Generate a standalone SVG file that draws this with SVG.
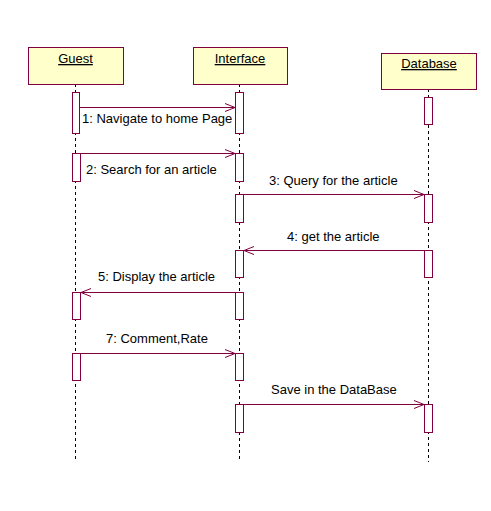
<svg xmlns="http://www.w3.org/2000/svg" width="491" height="511" viewBox="0 0 491 511">
<defs>
<style>
.obj{fill:#FFFFCC;stroke:#800040;stroke-width:1}
.act{fill:#FFFFFF;stroke:#800040;stroke-width:1}
.life{stroke:#000;stroke-width:1;stroke-dasharray:3,3;fill:none}
.msg{stroke:#800040;stroke-width:1;fill:none}
.t{font-family:"Liberation Sans",Arial,sans-serif;font-size:13px;fill:#000}
.n{font-family:"Liberation Sans",Arial,sans-serif;font-size:13px;fill:#000;text-decoration:underline;text-anchor:middle}
</style>
<marker id="ah" markerWidth="12" markerHeight="10" refX="11" refY="5" orient="auto" markerUnits="userSpaceOnUse">
<path d="M1,1 L11,5 L1,9" fill="none" stroke="#800040" stroke-width="1"/>
</marker>
</defs>
<rect width="491" height="511" fill="#fff"/>
<g id="lifelines">
<line class="life" x1="75.5" y1="84" x2="75.5" y2="462"/>
<line class="life" x1="239.5" y1="84" x2="239.5" y2="462"/>
<line class="life" x1="428.5" y1="89" x2="428.5" y2="462"/>
</g>
<g id="guest">
<rect class="obj" x="28.5" y="47.5" width="95" height="37"/>
<text class="n" x="75.5" y="63">Guest</text>
</g>
<g id="interface">
<rect class="obj" x="193.5" y="47.5" width="94" height="37"/>
<text class="n" x="240" y="63">Interface</text>
</g>
<g id="database">
<rect class="obj" x="381.5" y="53.5" width="95" height="36"/>
<text class="n" x="429" y="68">Database</text>
</g>
<g id="activations">
<rect class="act" x="72.5" y="92.5" width="7" height="41"/>
<rect class="act" x="235.5" y="92.5" width="8" height="41"/>
<rect class="act" x="424.5" y="97.5" width="8" height="27"/>
<rect class="act" x="72.5" y="153.5" width="8" height="28"/>
<rect class="act" x="235.5" y="153.5" width="8" height="28"/>
<rect class="act" x="235.5" y="194.5" width="8" height="28"/>
<rect class="act" x="424.5" y="194.5" width="8" height="28"/>
<rect class="act" x="235.5" y="250.5" width="8" height="27"/>
<rect class="act" x="424.5" y="250.5" width="8" height="27"/>
<rect class="act" x="72.5" y="292.5" width="8" height="27"/>
<rect class="act" x="235.5" y="292.5" width="8" height="27"/>
<rect class="act" x="72.5" y="353.5" width="8" height="27"/>
<rect class="act" x="235.5" y="353.5" width="8" height="27"/>
<rect class="act" x="235.5" y="404.5" width="8" height="28"/>
<rect class="act" x="424.5" y="404.5" width="8" height="28"/>
</g>
<g id="connectors">
<line class="msg" x1="80" y1="107.5" x2="235" y2="107.5" marker-end="url(#ah)"/>
<line class="msg" x1="81" y1="153.5" x2="235" y2="153.5" marker-end="url(#ah)"/>
<line class="msg" x1="244" y1="194.5" x2="424" y2="194.5" marker-end="url(#ah)"/>
<line class="msg" x1="424" y1="250.5" x2="244" y2="250.5" marker-end="url(#ah)"/>
<line class="msg" x1="235" y1="292.5" x2="81" y2="292.5" marker-end="url(#ah)"/>
<line class="msg" x1="81" y1="353.5" x2="235" y2="353.5" marker-end="url(#ah)"/>
<line class="msg" x1="244" y1="404.5" x2="424" y2="404.5" marker-end="url(#ah)"/>
</g>
<g id="labels">
<text class="t" x="82" y="123">1: Navigate to home Page</text>
<text class="t" x="86" y="174">2: Search for an article</text>
<text class="t" x="269" y="185">3: Query for the article</text>
<text class="t" x="287" y="241">4: get the article</text>
<text class="t" x="98" y="281">5: Display the article</text>
<text class="t" x="106" y="343">7: Comment,Rate</text>
<text class="t" x="271" y="394">Save in the DataBase</text>
</g>
</svg>
